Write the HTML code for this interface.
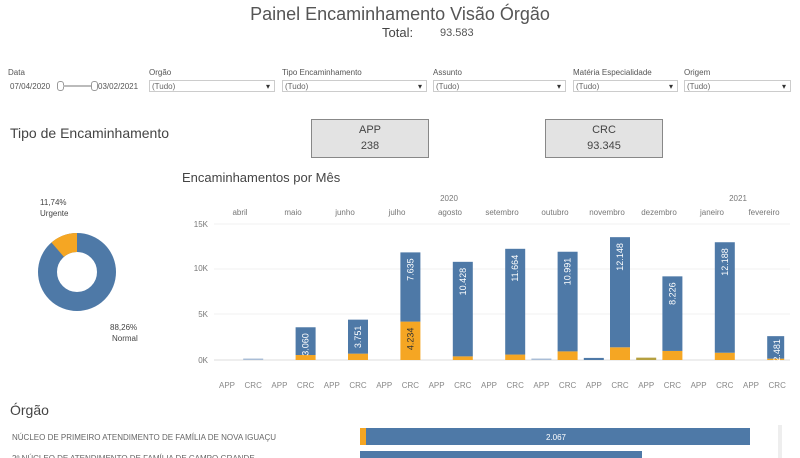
<!DOCTYPE html>
<html><head><meta charset="utf-8"><style>
body{margin:0;width:800px;height:458px;overflow:hidden;background:#fff;font-family:"Liberation Sans",sans-serif;position:relative}
.a{position:absolute;white-space:nowrap}
.lbl{font-size:8px;color:#555}
.sel{position:absolute;height:12px;border:1px solid #ccc;font-size:8px;color:#666;line-height:12px;padding-left:2px;box-sizing:border-box}
.sel:after{content:"▾";position:absolute;right:4px;top:0;font-size:8px;color:#333}
.card{position:absolute;background:#e3e3e3;border:1px solid #888;text-align:center;color:#444;font-size:11px}
</style></head><body>
<div class="a" style="left:0;width:800px;text-align:center;top:4px;font-size:18px;color:#555">Painel Encaminhamento Visão Órgão</div>
<div class="a" style="left:382px;top:25px;font-size:13px;color:#444">Total:</div>
<div class="a" style="left:440px;top:27px;font-size:11px;color:#555">93.583</div>

<div class="a lbl" style="left:8px;top:68px">Data</div>
<div class="a lbl" style="left:10px;top:82px">07/04/2020</div>
<div class="a" style="left:57px;top:81px;width:5px;height:8px;border:1px solid #999;border-radius:3px"></div>
<div class="a" style="left:63px;top:85px;width:28px;height:2px;background:#bbb"></div>
<div class="a" style="left:91px;top:81px;width:5px;height:8px;border:1px solid #999;border-radius:3px"></div>
<div class="a lbl" style="left:98px;top:82px">03/02/2021</div>
<div class="a lbl" style="left:149px;top:68px">Orgão</div><div class="sel" style="left:149px;top:80px;width:126px">(Tudo)</div>
<div class="a lbl" style="left:282px;top:68px">Tipo Encaminhamento</div><div class="sel" style="left:282px;top:80px;width:145px">(Tudo)</div>
<div class="a lbl" style="left:433px;top:68px">Assunto</div><div class="sel" style="left:433px;top:80px;width:133px">(Tudo)</div>
<div class="a lbl" style="left:573px;top:68px">Matéria Especialidade</div><div class="sel" style="left:573px;top:80px;width:105px">(Tudo)</div>
<div class="a lbl" style="left:684px;top:68px">Origem</div><div class="sel" style="left:684px;top:80px;width:107px">(Tudo)</div>

<div class="a" style="left:10px;top:125px;font-size:14px;color:#444">Tipo de Encaminhamento</div>
<div class="card" style="left:311px;top:119px;width:116px;height:37px"><div style="margin-top:4px">APP</div><div style="margin-top:4px">238</div></div>
<div class="card" style="left:545px;top:119px;width:116px;height:37px"><div style="margin-top:4px">CRC</div><div style="margin-top:4px">93.345</div></div>
<div class="a" style="left:182px;top:170px;font-size:13px;color:#444">Encaminhamentos por Mês</div>

<svg class="a" style="left:0;top:0" width="800" height="458">
<g font-family="Liberation Sans,sans-serif">
<circle cx="77" cy="272" r="29.5" fill="none" stroke="#4e79a7" stroke-width="19"/>
<path d="M77 242.5 A29.5 29.5 0 0 0 57.7 249.7" fill="none" stroke="#f5a623" stroke-width="19"/>
<text x="40" y="205" font-size="8" fill="#444">11,74%</text>
<text x="40" y="216" font-size="8" fill="#444">Urgente</text>
<text x="110" y="330" font-size="8" fill="#444">88,26%</text>
<text x="112" y="341" font-size="8" fill="#444">Normal</text>
<g font-size="8" fill="#777">
<text x="449" y="201" text-anchor="middle">2020</text><text x="738" y="201" text-anchor="middle">2021</text>
<text x="240" y="215" text-anchor="middle">abril</text><text x="293" y="215" text-anchor="middle">maio</text>
<text x="345" y="215" text-anchor="middle">junho</text><text x="397" y="215" text-anchor="middle">julho</text>
<text x="450" y="215" text-anchor="middle">agosto</text><text x="502" y="215" text-anchor="middle">setembro</text>
<text x="555" y="215" text-anchor="middle">outubro</text><text x="607" y="215" text-anchor="middle">novembro</text>
<text x="659" y="215" text-anchor="middle">dezembro</text><text x="712" y="215" text-anchor="middle">janeiro</text>
<text x="764" y="215" text-anchor="middle">fevereiro</text>
<text x="208" y="227" text-anchor="end">15K</text><text x="208" y="271" text-anchor="end">10K</text>
<text x="208" y="317" text-anchor="end">5K</text><text x="208" y="363" text-anchor="end">0K</text>
</g>
<g stroke="#f0f0f0"><line x1="214" x2="790" y1="224" y2="224"/><line x1="214" x2="790" y1="269" y2="269"/><line x1="214" x2="790" y1="314" y2="314"/><line x1="214" x2="790" y1="360" y2="360" stroke="#ddd"/></g>
<g id="bars"></g>
<g font-size="8" fill="#888" text-anchor="middle" id="xl"></g>
<text x="10" y="415" font-size="14" fill="#444">Órgão</text>
<text x="12" y="440" font-size="8" fill="#666">NÚCLEO DE PRIMEIRO ATENDIMENTO DE FAMÍLIA DE NOVA IGUAÇU</text>
<text x="12" y="461" font-size="8" fill="#666">2º NÚCLEO DE ATENDIMENTO DE FAMÍLIA DE CAMPO GRANDE</text>
<rect x="360" y="428" width="6" height="17" fill="#f5a623"/>
<rect x="366" y="428" width="384" height="17" fill="#4e79a7"/>
<text x="556" y="440" font-size="8" fill="#fff" text-anchor="middle">2.067</text>
<rect x="360" y="451" width="282" height="17" fill="#4e79a7"/>
<rect x="778" y="425" width="4" height="33" fill="#eee"/>
</g></svg>
<script>
var k=136/15000,b=document.getElementById('bars'),s='',xl='';
function c(i){return 227+i*26.2}
for(var i=0;i<22;i++)xl+='<text x="'+c(i)+'" y="388">'+(i%2?'CRC':'APP')+'</text>';
document.getElementById('xl').innerHTML=xl;
var d=[[1,0,50,'#a9bdd6'],[12,0,50,'#a9bdd6'],[14,0,120,'#4e79a7'],[16,0,150,'#b5a040'],
[3,550,3060,'3.060'],[5,700,3751,'3.751'],[7,4234,7635,'7.635'],[9,400,10428,'10.428'],[11,600,11664,'11.664'],
[13,950,10991,'10.991'],[15,1400,12148,'12.148'],[17,1000,8226,'8.226'],[19,800,12188,'12.188'],[21,150,2481,'2.481']];
d.forEach(function(r){var x=c(r[0])-10;
 if(typeof r[3]=='string'&&r[3][0]=='#'){s+='<rect x="'+x+'" y="'+(360-r[2]*k-1)+'" width="20" height="'+(r[2]*k+1)+'" fill="'+r[3]+'"/>';return}
 var o=r[1]*k,t=r[2]*k,w=r[0]==21?17:20;
 s+='<rect x="'+x+'" y="'+(360-o)+'" width="'+w+'" height="'+o+'" fill="#f5a623"/>';
 s+='<rect x="'+x+'" y="'+(360-o-t)+'" width="'+w+'" height="'+t+'" fill="#4e79a7"/>';
 var ty=360-o-t+(r[0]==21?3:6);
 s+='<text transform="translate('+(x+13)+','+ty+') rotate(-90)" text-anchor="end" font-size="9" fill="#fff">'+r[3]+'</text>';
 if(r[0]==7)s+='<text transform="translate('+(x+13)+','+(360-o+6)+') rotate(-90)" text-anchor="end" font-size="9" fill="#333">4.234</text>';
});
b.innerHTML=s;
</script>
</body></html>
